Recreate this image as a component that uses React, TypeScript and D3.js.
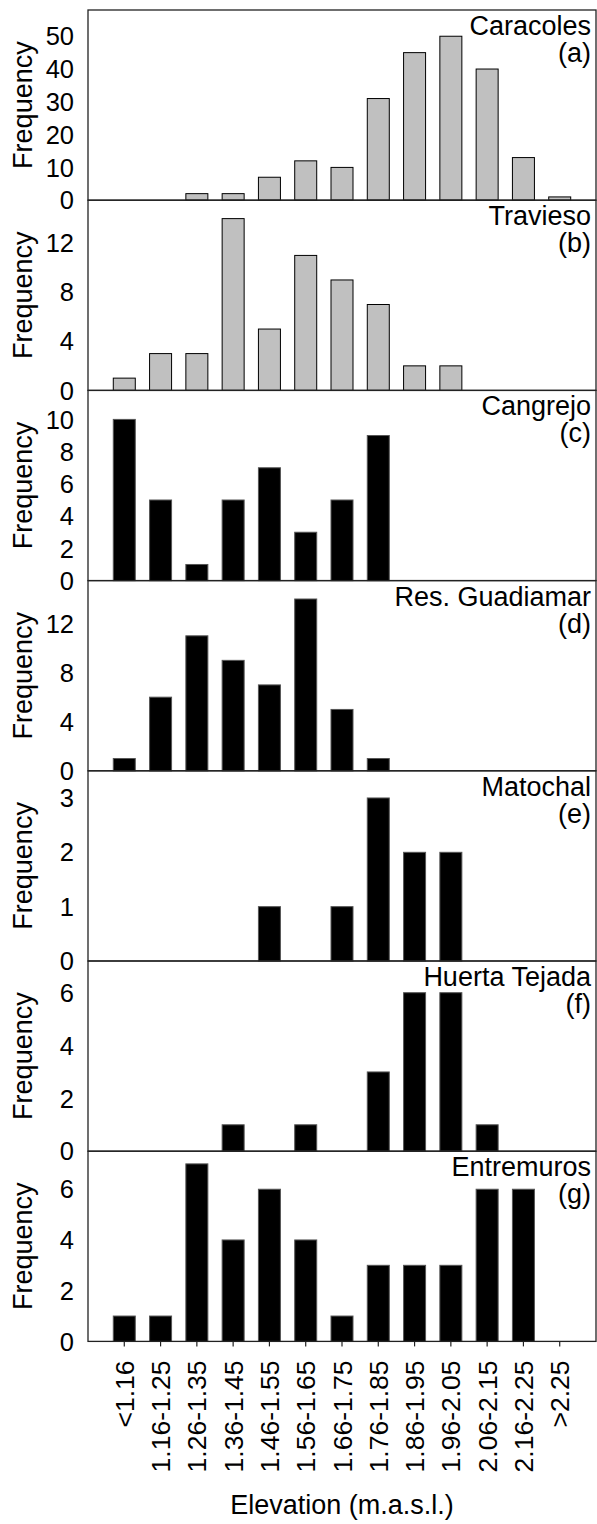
import React from "react";
import * as d3 from "d3";

const categories = [
  "<1.16", "1.16-1.25", "1.26-1.35", "1.36-1.45", "1.46-1.55", "1.56-1.65", "1.66-1.75",
  "1.76-1.85", "1.86-1.95", "1.96-2.05", "2.06-2.15", "2.16-2.25", ">2.25",
];

// frequencies per elevation class, one array per site
const caracoles = [0, 0, 2, 2, 7, 12, 10, 31, 45, 50, 40, 13, 1];
const travieso = [1, 3, 3, 14, 5, 11, 9, 7, 2, 2, 0, 0, 0];
const cangrejo = [10, 5, 1, 5, 7, 3, 5, 9, 0, 0, 0, 0, 0];
const guadiamar = [1, 6, 11, 9, 7, 14, 5, 1, 0, 0, 0, 0, 0];
const matochal = [0, 0, 0, 0, 1, 0, 1, 3, 2, 2, 0, 0, 0];
const huertaTejada = [0, 0, 0, 1, 0, 1, 0, 3, 6, 6, 1, 0, 0];
const entremuros = [1, 1, 7, 4, 6, 4, 1, 3, 3, 3, 6, 6, 0];

const siteNames = ["Caracoles", "Travieso", "Cangrejo", "Res. Guadiamar", "Matochal", "Huerta Tejada", "Entremuros"];
const panelLetters = ["(a)", "(b)", "(c)", "(d)", "(e)", "(f)", "(g)"];
const yMaxes = [58, 15.5, 11.8, 15.5, 3.5, 7.2, 7.5];
const yTicks = [
  [0, 10, 20, 30, 40, 50],
  [0, 4, 8, 12],
  [0, 2, 4, 6, 8, 10],
  [0, 4, 8, 12],
  [0, 1, 2, 3],
  [0, 2, 4, 6],
  [0, 2, 4, 6],
];
const seriesList = [caracoles, travieso, cangrejo, guadiamar, matochal, huertaTejada, entremuros];

const W = 597;
const H = 1524;
const left = 88;
const right = 596;
const top = 10;
const panelH = 190.2;
const font = "Arial, 'Liberation Sans', sans-serif";

export default function App() {
  const x = d3.scalePoint<string>().domain(categories).range([left, right]).padding(1);
  const barW = 22;
  const bottom = top + panelH * seriesList.length;

  return (
    <svg width={W} height={H} style={{ position: "absolute", left: 0, top: 0, background: "#fff" }} fontFamily={font}>
      {seriesList.map((values, p) => {
        const y0 = top + panelH * p;
        const y1 = y0 + panelH;
        const y = d3.scaleLinear().domain([0, yMaxes[p]]).range([y1, y0]);
        const grey = p < 2;
        return (
          <g key={p}>
            {values.map((v, i) =>
              v > 0 ? (
                <rect
                  key={i}
                  x={(x(categories[i]) as number) - barW / 2}
                  y={y(v)}
                  width={barW}
                  height={y(0) - y(v)}
                  fill={grey ? "#c0c0c0" : "#000"}
                  stroke={grey ? "#000" : "#555"}
                  strokeWidth={1}
                />
              ) : null
            )}
            <rect x={left} y={y0} width={right - left} height={panelH} fill="none" stroke="#222" strokeWidth={1.3} />
            {yTicks[p].map((t) => (
              <text key={t} x={74} y={y(t)} dy="0.36em" textAnchor="end" fontSize={25.5} fill="#000">
                {t}
              </text>
            ))}
            <text
              transform={`translate(32,${(y0 + y1) / 2}) rotate(-90)`}
              textAnchor="middle"
              fontSize={27}
              fill="#000"
            >
              Frequency
            </text>
            <text x={591} y={y0 + 25} textAnchor="end" fontSize={27} fill="#000">
              {siteNames[p]}
            </text>
            <text x={591} y={y0 + 52} textAnchor="end" fontSize={27} fill="#000">
              {panelLetters[p]}
            </text>
          </g>
        );
      })}
      {categories.map((c) => (
        <g key={c}>
          <line x1={x(c)} x2={x(c)} y1={bottom} y2={bottom + 5} stroke="#222" strokeWidth={1.2} />
          <text
            transform={`translate(${x(c)},${bottom + 19}) rotate(-90)`}
            dy="0.36em"
            textAnchor="end"
            fontSize={26.5}
            fill="#000"
          >
            {c}
          </text>
        </g>
      ))}
      <text x={(left + right) / 2} y={1514} textAnchor="middle" fontSize={27} fill="#000">
        Elevation (m.a.s.l.)
      </text>
    </svg>
  );
}
